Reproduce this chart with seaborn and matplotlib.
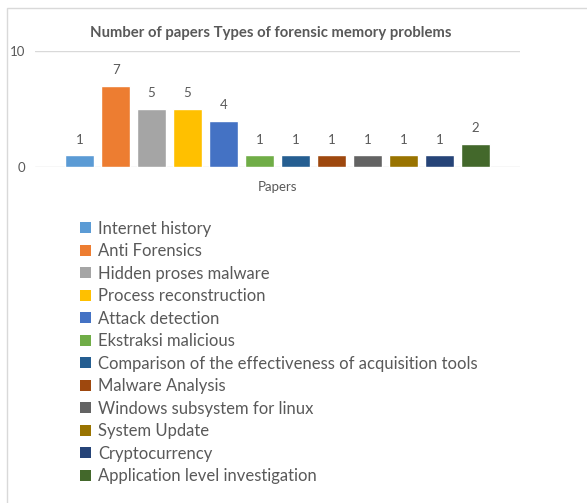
import matplotlib
matplotlib.use('Agg')
import matplotlib.pyplot as plt
import seaborn as sns
import pandas as pd
from matplotlib.patches import Rectangle, Patch

# data
topics = ['Internet history', 'Anti Forensics', 'Hidden proses malware',
          'Process reconstruction', 'Attack detection', 'Ekstraksi malicious',
          'Comparison of the effectiveness of acquisition tools',
          'Malware Analysis', 'Windows subsystem for linux', 'System Update',
          'Cryptocurrency', 'Application level investigation']
papers = [1, 7, 5, 5, 4, 1, 1, 1, 1, 1, 1, 2]
category = ['Papers'] * len(topics)
colors = ['#5B9BD5', '#ED7D31', '#A5A5A5', '#FFC000', '#4472C4', '#70AD47',
          '#255E91', '#9E480E', '#636363', '#997300', '#264478', '#43682B']

df = pd.DataFrame({'cat': category, 'topic': topics, 'n': papers})

sns.set_style('white')
plt.rcParams['font.family'] = ['Lato', 'DejaVu Sans']
txt = '#595959'

W, H = 587, 503
fig = plt.figure(figsize=(W / 100, H / 100), dpi=100)
fig.patch.set_facecolor('white')

# chart area frame
fig.patches.append(Rectangle((7 / W, -0.1), 1.2, 1 - 8 / H + 0.1, transform=fig.transFigure,
                             fill=False, edgecolor='#d9d9d9', linewidth=1))

ax = fig.add_axes([35 / W, 1 - 167 / H, 485 / W, 116 / H])
sns.barplot(data=df, x='cat', y='n', hue='topic', hue_order=topics, palette=colors,
            width=0.89, gap=0.2, ax=ax, legend=False, saturation=1)

ax.set_ylim(0, 10)
ax.set_xlim(-0.5, 0.5)
ax.set_yticks([0, 10])
ax.yaxis.grid(True, color='#d9d9d9', linewidth=1)
ax.set_axisbelow(True)
for s in ax.spines.values():
    s.set_visible(False)
ax.tick_params(axis='both', length=0, colors=txt, labelsize=9.5)
ax.tick_params(axis='y', pad=7)
ax.tick_params(axis='x', pad=10)
ax.set_xlabel('')
ax.set_ylabel('')

for c in ax.containers:
    ax.bar_label(c, padding=7, fontsize=9.5, color=txt)

fig.text(271 / W, 1 - 33 / H, 'Number of papers Types of forensic memory problems',
         ha='center', va='center', fontsize=10.7, fontweight='bold', color=txt)

handles = [Patch(facecolor=c, edgecolor='none') for c in colors]
fig.legend(handles, topics, loc='upper left', bbox_to_anchor=(73 / W, 1 - 214 / H),
           frameon=False, fontsize=12, labelcolor=txt, handlelength=0.65, handleheight=0.65,
           handletextpad=0.45, labelspacing=0.39, borderaxespad=0)

fig.savefig('out.png', dpi=100, facecolor='white')
